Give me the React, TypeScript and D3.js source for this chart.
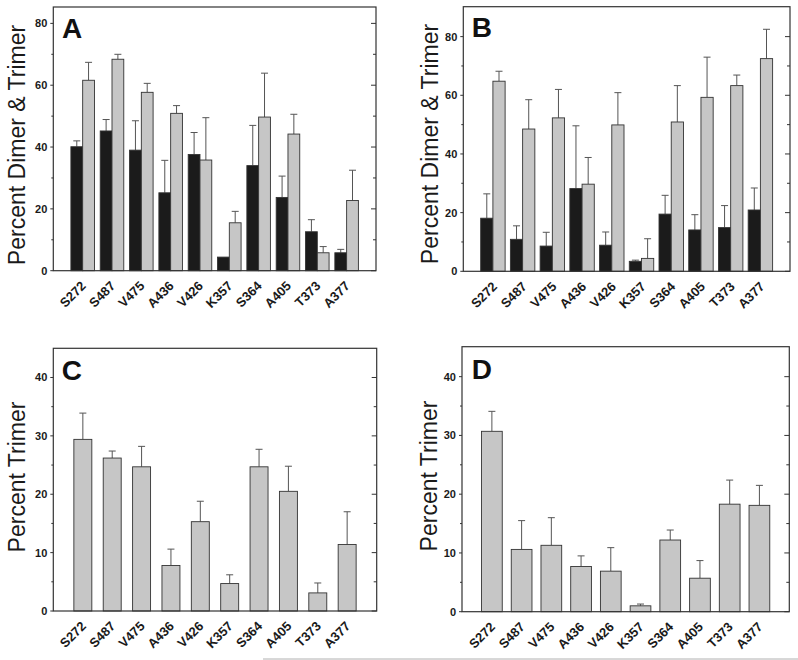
import React from "react";
import * as d3 from "d3";

const categories = ["S272", "S487", "V475", "A436", "V426", "K357", "S364", "A405", "T373", "A377"];

const aDimer = [40.1, 45.2, 39.0, 25.2, 37.6, 4.4, 34.0, 23.7, 12.6, 5.8];
const aDimerErr = [1.9, 3.7, 9.5, 10.5, 7.1, 0, 13.0, 6.9, 3.9, 1.1];
const aTrimer = [61.6, 68.4, 57.7, 50.9, 35.8, 15.5, 49.7, 44.2, 5.8, 22.7];
const aTrimerErr = [5.8, 1.6, 2.9, 2.5, 13.7, 3.7, 14.2, 6.4, 2.0, 9.8];

const bDimer = [18.1, 10.9, 8.6, 28.2, 8.9, 3.4, 19.5, 14.1, 14.9, 20.9];
const bDimerErr = [8.3, 4.6, 4.7, 21.4, 4.5, 0.4, 6.4, 5.2, 7.5, 7.5];
const bTrimer = [64.8, 48.5, 52.3, 29.7, 49.9, 4.4, 50.9, 59.3, 63.3, 72.5];
const bTrimerErr = [3.4, 10.0, 9.7, 9.1, 11.0, 6.7, 12.4, 13.7, 3.6, 10.0];

const cTrimer = [29.4, 26.2, 24.7, 7.8, 15.3, 4.7, 24.7, 20.5, 3.1, 11.4];
const cTrimerErr = [4.5, 1.2, 3.5, 2.8, 3.5, 1.5, 3.0, 4.3, 1.7, 5.6];

const dTrimer = [30.7, 10.6, 11.3, 7.7, 6.9, 1.0, 12.2, 5.7, 18.3, 18.1];
const dTrimerErr = [3.4, 4.9, 4.7, 1.8, 4.0, 0.3, 1.7, 3.0, 4.1, 3.4];

const ticksDT = [0, 20, 40, 60, 80];
const minorDT = [10, 30, 50, 70];
const ticksT = [0, 10, 20, 30, 40];
const minorT = [5, 15, 25, 35];

const FONT = "'Liberation Sans', Arial, Helvetica, sans-serif";
const BLACK = "#1b1b1b";
const GRAY = "#c6c6c6";
const FRAME = "#333";
const ERR = "#555";

type Series = { values: number[]; errs: number[]; fill: string };

type PanelProps = {
  letter: string;
  title: string;
  left: number;
  right: number;
  top: number;
  bottom: number;
  ymax: number;
  padInner: number;
  padOuter: number;
  series: Series[];
  ticks: number[];
  minor: number[];
  titleX: number;
  titleY: number;
  letterX: number;
  letterY: number;
  labelDx: number;
  labelDy: number;
};

function Panel(p: PanelProps) {
  const x = d3.scaleBand<string>().domain(categories).range([p.left, p.right]).paddingInner(p.padInner).paddingOuter(p.padOuter);
  const y = d3.scaleLinear().domain([0, p.ymax]).range([p.bottom, p.top]);
  const sub = d3
    .scaleBand<number>()
    .domain(d3.range(p.series.length))
    .range([0, x.bandwidth()]);
  const capHalf = 3.5;
  return (
    <g>
      {p.series.map((s, si) =>
        categories.map((c, i) => {
          const bx = (x(c) as number) + (sub(si) as number);
          const bw = sub.bandwidth();
          const v = s.values[i];
          const e = s.errs[i];
          const cx = bx + bw / 2;
          return (
            <g key={`${si}-${c}`}>
              {e > 0 && (
                <g stroke={ERR} strokeWidth={1}>
                  <line x1={cx} x2={cx} y1={y(v)} y2={y(v + e)} />
                  <line x1={cx - capHalf} x2={cx + capHalf} y1={y(v + e)} y2={y(v + e)} />
                </g>
              )}
              <rect x={bx} y={y(v)} width={bw} height={y(0) - y(v)} fill={s.fill} stroke={FRAME} strokeWidth={0.9} />
            </g>
          );
        })
      )}
      <rect x={p.left} y={p.top} width={p.right - p.left} height={p.bottom - p.top} fill="none" stroke={FRAME} strokeWidth={1.2} />
      {p.ticks.map((t) => (
        <g key={`t${t}`}>
          <line x1={p.left - 3} x2={p.left} y1={y(t)} y2={y(t)} stroke={FRAME} strokeWidth={1} />
          <line x1={p.right - 5} x2={p.right} y1={y(t)} y2={y(t)} stroke={FRAME} strokeWidth={1} />
          <text x={p.left - 6} y={y(t)} dy="0.36em" textAnchor="end" fontFamily={FONT} fontWeight="bold" fontSize={11} fill="#1a1a1a">
            {t}
          </text>
        </g>
      ))}
      {p.minor.map((t) => (
        <g key={`m${t}`}>
          <line x1={p.left - 2} x2={p.left} y1={y(t)} y2={y(t)} stroke={FRAME} strokeWidth={1} />
          <line x1={p.right - 3} x2={p.right} y1={y(t)} y2={y(t)} stroke={FRAME} strokeWidth={1} />
        </g>
      ))}
      {categories.map((c) => {
        const cx = (x(c) as number) + x.bandwidth() / 2 + p.labelDx;
        const cy = p.bottom + p.labelDy;
        return (
          <text
            key={`l${c}`}
            transform={`translate(${cx},${cy}) rotate(-45)`}
            textAnchor="end"
            fontFamily={FONT}
            fontWeight="bold"
            fontSize={13}
            fill="#1a1a1a"
          >
            {c}
          </text>
        );
      })}
      <text
        transform={`translate(${p.titleX},${p.titleY}) rotate(-90)`}
        textAnchor="middle"
        fontFamily={FONT}
        fontSize={23}
        fill="#1a1a1a"
      >
        {p.title}
      </text>
      <text x={p.letterX} y={p.letterY} fontFamily={FONT} fontWeight="bold" fontSize={28} fill="#111">
        {p.letter}
      </text>
    </g>
  );
}

export default function App() {
  return (
    <svg width={798} height={660} style={{ position: "absolute", left: 0, top: 0, background: "#fff" }}>
      <rect x={0} y={0} width={798} height={660} fill="#fff" />
      <Panel
        letter="A"
        title="Percent Dimer & Trimer"
        left={53.3}
        right={376}
        top={7}
        bottom={270.7}
        ymax={85.3}
        padInner={0.197}
        padOuter={0.6}
        series={[
          { values: aDimer, errs: aDimerErr, fill: BLACK },
          { values: aTrimer, errs: aTrimerErr, fill: GRAY },
        ]}
        ticks={ticksDT}
        minor={minorDT}
        titleX={25}
        titleY={145}
        letterX={62}
        letterY={38}
        labelDx={4}
        labelDy={16}
      />
      <Panel
        letter="B"
        title="Percent Dimer & Trimer"
        left={463.3}
        right={790}
        top={6.7}
        bottom={271.3}
        ymax={90.2}
        padInner={0.178}
        padOuter={0.585}
        series={[
          { values: bDimer, errs: bDimerErr, fill: BLACK },
          { values: bTrimer, errs: bTrimerErr, fill: GRAY },
        ]}
        ticks={ticksDT}
        minor={minorDT}
        titleX={438}
        titleY={144}
        letterX={471.7}
        letterY={36.7}
        labelDx={5}
        labelDy={16}
      />
      <Panel
        letter="C"
        title="Percent Trimer"
        left={53.3}
        right={376.7}
        top={348.3}
        bottom={611}
        ymax={45}
        padInner={0.388}
        padOuter={0.7}
        series={[{ values: cTrimer, errs: cTrimerErr, fill: GRAY }]}
        ticks={ticksT}
        minor={minorT}
        titleX={25}
        titleY={477}
        letterX={61.7}
        letterY={380}
        labelDx={4}
        labelDy={16}
      />
      <Panel
        letter="D"
        title="Percent Trimer"
        left={462}
        right={789.3}
        top={346.7}
        bottom={611.7}
        ymax={45.1}
        padInner={0.303}
        padOuter={0.657}
        series={[{ values: dTrimer, errs: dTrimerErr, fill: GRAY }]}
        ticks={ticksT}
        minor={minorT}
        titleX={437}
        titleY={476}
        letterX={471.7}
        letterY={379}
        labelDx={4}
        labelDy={16}
      />
      <line x1={263} x2={798} y1={659} y2={659} stroke="#b0b0b0" strokeWidth={1} />
    </svg>
  );
}
